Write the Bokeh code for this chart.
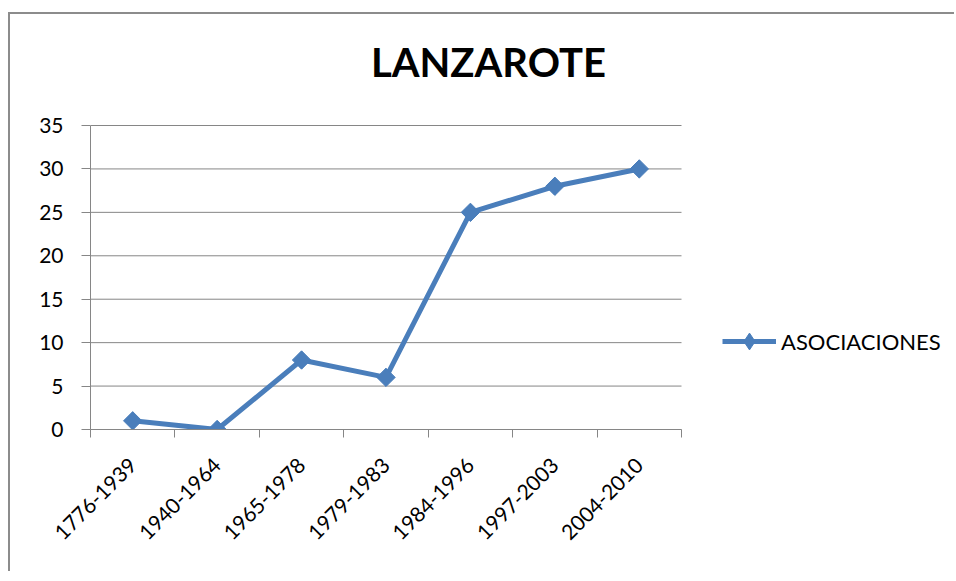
import math
from bokeh.plotting import figure
from bokeh.models import (ColumnDataSource, FixedTicker, Label, Legend, LegendItem, Range1d)
from bokeh.embed import file_html
from bokeh.resources import INLINE

# ---- data ----
categories = ["1776-1939", "1940-1964", "1965-1978", "1979-1983",
              "1984-1996", "1997-2003", "2004-2010"]
asociaciones = [1, 0, 8, 6, 25, 28, 30]
y_ticks = [0, 5, 10, 15, 20, 25, 30, 35]
title_text = "LANZAROTE"
series_name = "ASOCIACIONES"

FONT = "Lato"
BLUE = "#4A7EBB"
GRAY = "#868686"

# ---- layout (pixels) ----
W, H = 946, 559
LEFT, BOTTOM = 80, 144
PLOT_W, PLOT_H = 591, 304          # size of the axes box
FRAME_W, FRAME_H = W - LEFT, H - BOTTOM
n = len(categories)
y_max = y_ticks[-1]

xs = [i + 0.5 for i in range(n)]
src = ColumnDataSource(dict(x=xs, y=asociaciones))
grid_src = ColumnDataSource(dict(y=y_ticks, x0=[0] * len(y_ticks), x1=[n] * len(y_ticks)))

p = figure(width=W, height=H, output_backend="svg", toolbar_location=None, title=None,
           x_range=Range1d(0, n * FRAME_W / PLOT_W),
           y_range=Range1d(0, y_max * FRAME_H / PLOT_H),
           min_border_left=LEFT, min_border_right=0, min_border_top=0,
           min_border_bottom=BOTTOM)
p.styles = {"border-left": "2px solid #8c8c8c", "border-top": "2px solid #8c8c8c",
            "margin-top": "12px", "margin-left": "8px"}
p.outline_line_color = None
p.background_fill_color = "white"
p.border_fill_color = "white"
p.xgrid.grid_line_color = None
p.ygrid.grid_line_color = None

# x axis
p.xaxis.bounds = (0, n)
p.xaxis.ticker = FixedTicker(ticks=xs, minor_ticks=list(range(n + 1)))
p.xaxis.major_label_overrides = {x: c for x, c in zip(xs, categories)}
p.xaxis.major_tick_out = 0
p.xaxis.major_tick_in = 0
p.xaxis.minor_tick_out = 8
p.xaxis.minor_tick_in = 0
p.xaxis.minor_tick_line_color = GRAY
p.xaxis.axis_line_color = GRAY
p.xaxis.major_label_orientation = math.pi / 4
p.xaxis.major_label_text_font = FONT
p.xaxis.major_label_text_font_size = "21px"
p.xaxis.major_label_text_color = "black"
p.xaxis.major_label_standoff = 24

# y axis
p.yaxis.bounds = (0, y_max)
p.yaxis.ticker = FixedTicker(ticks=y_ticks)
p.yaxis.minor_tick_line_color = None
p.yaxis.major_tick_out = 9
p.yaxis.major_tick_in = 0
p.yaxis.major_tick_line_color = GRAY
p.yaxis.axis_line_color = GRAY
p.yaxis.major_label_text_font = FONT
p.yaxis.major_label_text_font_size = "21px"
p.yaxis.major_label_text_color = "black"
p.yaxis.major_label_standoff = 18

# horizontal gridlines, limited to the axes box
p.segment(x0="x0", y0="y", x1="x1", y1="y", source=grid_src, line_color=GRAY, line_width=1)

line = p.line("x", "y", source=src, line_color=BLUE, line_width=5)
# diamond markers (also used for the legend symbol), covered by the wider markers
legend_marker = p.scatter("x", "y", source=src, marker="diamond", size=17,
                          fill_color=BLUE, line_color=BLUE)
pts = p.scatter("x", "y", source=src, marker="square", angle=math.pi / 4, size=13,
                fill_color=BLUE, line_color=BLUE)

legend = Legend(items=[LegendItem(label=series_name, renderers=[line, legend_marker])],
                location=(632, 67), glyph_width=54, glyph_height=42,
                label_standoff=5, padding=0, margin=0, spacing=0,
                border_line_color=None, background_fill_alpha=0,
                label_text_font=FONT, label_text_font_size="22px",
                label_text_color="black")
p.add_layout(legend, "center")

title = Label(x=398, y=368, x_units="screen", y_units="screen", text=title_text,
              text_align="center", text_baseline="alphabetic",
              text_font=FONT, text_font_style="bold",
              text_font_size="40px", text_color="black")
p.add_layout(title)

open("out.html", "w").write(file_html(p, INLINE))
